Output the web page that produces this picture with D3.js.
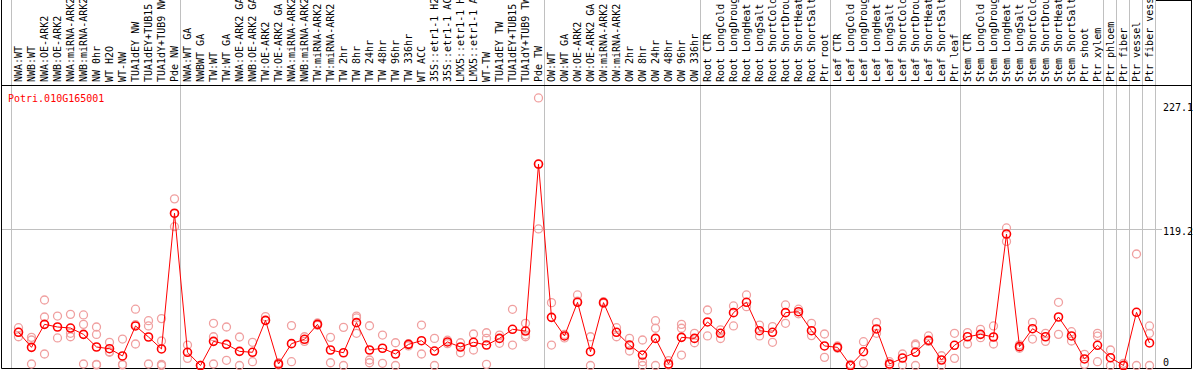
<!DOCTYPE html>
<html lang="en">
<head>
  <meta charset="UTF-8">
  <title>Potri.010G165001</title>
  <script src="https://d3js.org/d3.v7.min.js"></script>
  <style>
    body { margin: 0; background: #fff; }
    text { font-family: "DejaVu Sans Mono", monospace; font-size: 10px; }
  </style>
</head>
<body>
  <div id="chart"></div>
  <script>
    const geneName = "Potri.010G165001";

    const labels = [
      "NWA:WT", "NWB:WT", "NWA:OE-ARK2", "NWB:OE-ARK2", "NWA:miRNA-ARK2", "NWB:miRNA-ARK2",
      "NW 0hr", "WT H2O", "WT-NW", "TUA1dEY NW", "TUA1dEY+TUB15 NW", "TUA1dY+TUB9 NW", "Pde NW",
      "NWA:WT GA", "NWBWT GA", "TW:WT", "TW:WT GA", "NWA:OE-ARK2 GA", "NWB:OE-ARK2 GA",
      "TW:OE-ARK2", "TW:OE-ARK2 GA", "NWA:miRNA-ARK2 GA", "NWB:miRNA-ARK2 GA", "TW:miRNA-ARK2",
      "TW:miRNA-ARK2 GA", "TW 2hr", "TW 8hr", "TW 24hr", "TW 48hr", "TW 96hr", "TW 336hr", "WT ACC",
      "35S::etr1-1 H2O", "35S::etr1-1 ACC", "LMX5::etr1-1 H2O", "LMX5::etr1-1 ACC", "WT-TW",
      "TUA1dEY TW", "TUA1dEY+TUB15 TW", "TUA1dY+TUB9 TW", "Pde TW",
      "OW:WT", "OW:WT GA", "OW:OE-ARK2", "OW:OE-ARK2 GA", "OW:miRNA-ARK2", "OW:miRNA-ARK2 GA",
      "OW 2hr", "OW 8hr", "OW 24hr", "OW 48hr", "OW 96hr", "OW 336hr",
      "Root CTR", "Root LongCold", "Root LongDrought", "Root LongHeat", "Root LongSalt",
      "Root ShortCold", "Root ShortDrought", "Root ShortHeat", "Root ShortSalt", "Ptr root",
      "Leaf CTR", "Leaf LongCold", "Leaf LongDrought", "Leaf LongHeat", "Leaf LongSalt",
      "Leaf ShortCold", "Leaf ShortDrought", "Leaf ShortHeat", "Leaf ShortSalt", "Ptr leaf",
      "Stem CTR", "Stem LongCold", "Stem LongDrought", "Stem LongHeat", "Stem LongSalt",
      "Stem ShortCold", "Stem ShortDrought", "Stem ShortHeat", "Stem ShortSalt", "Ptr shoot",
      "Ptr xylem", "Ptr phloem", "Ptr fiber", "Ptr vessel", "Ptr fiber vessel"
    ];

    // index of the last sample in each group (a separator line follows it)
    const groupEnds = [12, 40, 52, 62, 72, 83, 84, 85, 86, 87];

    const means = [
      28.9, 15.8, 35.8, 33.5, 32.6, 27.1, 16.1, 14.6, 8.3, 34.4, 24.8, 14.4, 132.5,
      11.5, 0, 21, 18.4, 12.3, 11.5, 39.3, 1.3, 19, 22.8, 35.8, 13.5, 11.1, 37.3, 13.5,
      15, 10, 18.4, 21.6, 12.6, 20.5, 16.1, 20.2, 17.8, 23.6, 31.5, 30, 175.3,
      41.9, 25.7, 55, 12, 54.7, 28.9, 17.8, 9.1, 23.6, 1.3, 24.5, 23.6,
      37.9, 28, 46, 55, 30.3, 28.9, 46, 46.8, 30.3, 17,
      15.8, 0, 12, 31.8, 1.3, 6.5, 11.5, 21.9, 4.8, 17.6,
      25, 27.1, 24.8, 114.4, 16.4, 32, 25, 42.2, 25.7, 5.7,
      17.6, 6.8, 0, 46.3, 19.6
    ];

    const replicates = [
      [32.9, 29, 25], [24.5, 22.2, 1.3], [57, 42.2, 10], [43, 24], [44.5, 28, 25], [44, 35.8, 1.3],
      [33.5, 27, 1, 0.5], [20.2, 12, 11.5], [23, 1, 0.5], [49, 18.7, 35.5], [39, 34.4, 1.3],
      [40.8, 21.3, 1, 0], [145, 120.8, 132],
      [17.8, 6.2], [0, 0], [36.7, 25, 1.3], [33.5, 4.5], [24.8, 0], [20.2, 3.3], [42.5, 39],
      [2.4, 0.5], [34.7, 3.3], [25, 21], [37, 35], [24.5, 2.4], [33.2, 0], [43, 41.5, 28],
      [34.6, 4.8, 2.4], [26.5, 1.9], [19.8, 0], [19, 17], [35.2, 10], [23.6, 0], [22, 19],
      [19.8, 11.1], [27.4, 13.5], [28.5, 23.6, 1], [26.5, 19.3], [48.9, 17.8], [36.7, 26.5, 25],
      [232.8, 118.8, 175],
      [54.7, 17.8], [27, 24], [61.4, 56], [25, 0], [55.5, 54], [32.9, 25], [23.6, 12.6],
      [22.2, 3.3, 0], [39, 32.4, 0], [4.2, 0.5], [35.8, 32.4, 9.1], [28, 19.8],
      [48.3, 25.7], [31, 23.5], [51.8, 34.4], [61.4, 51.2], [35.2, 25.7], [33.8, 20.2],
      [52.7, 36.7], [49, 45], [36.7, 26], [27.4, 7.1],
      [17, 15], [1, 0], [20.7, 1.9], [37.6, 28], [3.3, 0.5], [10, 0.4], [18.7, 17.5, 0],
      [25.7, 21], [8.5, 0], [28, 6.2],
      [28.6, 18.7], [31.5, 24.2], [34.4, 18.7], [119.7, 108], [18, 15], [37.6, 23], [28, 21],
      [55, 27.1], [29.4, 21.3], [9.7, 1],
      [28, 25.5, 3.3], [13.5, 0], [1.9, 0.5], [97, 0], [34.4, 28, 0]
    ];

    const yTicks = [0, 119.2, 227.1];

    const width = 1194;
    const height = 370;
    const plotLeft = 1.5, plotRight = 1191.5;
    const headerBottom = 85.5, plotBottom = 368.5;

    const svg = d3.select("#chart")
      .append("svg")
      .attr("width", width)
      .attr("height", height);

    const x = d3.scaleBand()
      .domain(d3.range(labels.length))
      .range([12, 12 + labels.length * 13]);
    const cx = i => x(i) + x.bandwidth() / 2;

    const y = d3.scaleLinear()
      .domain([0, 227.1])
      .range([365.5, 104.5]);

    // horizontal grid line at the middle tick
    svg.append("line")
      .attr("x1", plotLeft).attr("x2", 1162)
      .attr("y1", Math.round(y(yTicks[1])) + 0.5)
      .attr("y2", Math.round(y(yTicks[1])) + 0.5)
      .attr("stroke", "#c0c0c0");

    // vertical separators
    const seps = [0].concat(groupEnds.map(e => e + 1));
    svg.selectAll(".sep")
      .data(seps)
      .enter()
      .append("line")
      .attr("class", "sep")
      .attr("x1", d => Math.round(x(d) !== undefined ? x(d) : x(labels.length - 1) + 13) - 0.5)
      .attr("x2", d => Math.round(x(d) !== undefined ? x(d) : x(labels.length - 1) + 13) - 0.5)
      .attr("y1", 0)
      .attr("y2", plotBottom)
      .attr("stroke", "#c0c0c0");

    // sample labels
    svg.selectAll(".lab")
      .data(labels)
      .enter()
      .append("text")
      .attr("class", "lab")
      .attr("transform", (d, i) => `translate(${cx(i) + 3.7}, 82) rotate(-90)`)
      .attr("fill", "#000")
      .text(d => d);

    // frame
    const frame = svg.append("g").attr("stroke", "#000").attr("fill", "none");
    frame.append("line").attr("x1", plotLeft).attr("x2", plotLeft).attr("y1", 0).attr("y2", plotBottom);
    frame.append("line").attr("x1", plotRight).attr("x2", plotRight).attr("y1", 0).attr("y2", plotBottom);
    frame.append("line").attr("x1", plotLeft).attr("x2", plotRight).attr("y1", headerBottom).attr("y2", headerBottom);
    frame.append("line").attr("x1", plotLeft).attr("x2", plotRight).attr("y1", plotBottom).attr("y2", plotBottom);
    frame.append("line").attr("x1", 1156).attr("x2", plotRight).attr("y1", 0.5).attr("y2", 0.5);

    // y tick labels on the right
    svg.selectAll(".ytick")
      .data(yTicks)
      .enter()
      .append("text")
      .attr("class", "ytick")
      .attr("x", 1163)
      .attr("y", d => Math.min(y(d) + 6.5, 366))
      .attr("fill", "#000")
      .text(d => d);

    // gene name
    svg.append("text")
      .attr("x", 8)
      .attr("y", 102)
      .attr("fill", "#ff0000")
      .text(geneName);

    // replicate points
    const repPts = [];
    replicates.forEach((r, i) => r.forEach(v => repPts.push({ i, v })));
    svg.selectAll(".rep")
      .data(repPts)
      .enter()
      .append("circle")
      .attr("class", "rep")
      .attr("cx", d => cx(d.i))
      .attr("cy", d => y(d.v))
      .attr("r", 4)
      .attr("fill", "none")
      .attr("stroke", "#f0a0a0")
      .attr("stroke-width", 1.3);

    // mean line
    const line = d3.line()
      .x((d, i) => cx(i))
      .y(d => y(d));

    svg.append("path")
      .datum(means)
      .attr("d", line)
      .attr("fill", "none")
      .attr("stroke", "#ff0000")
      .attr("stroke-width", 1);

    svg.selectAll(".mean")
      .data(means)
      .enter()
      .append("circle")
      .attr("class", "mean")
      .attr("cx", (d, i) => cx(i))
      .attr("cy", d => y(d))
      .attr("r", 4)
      .attr("fill", "none")
      .attr("stroke", "#ff0000")
      .attr("stroke-width", 1.6);
  </script>
</body>
</html>
